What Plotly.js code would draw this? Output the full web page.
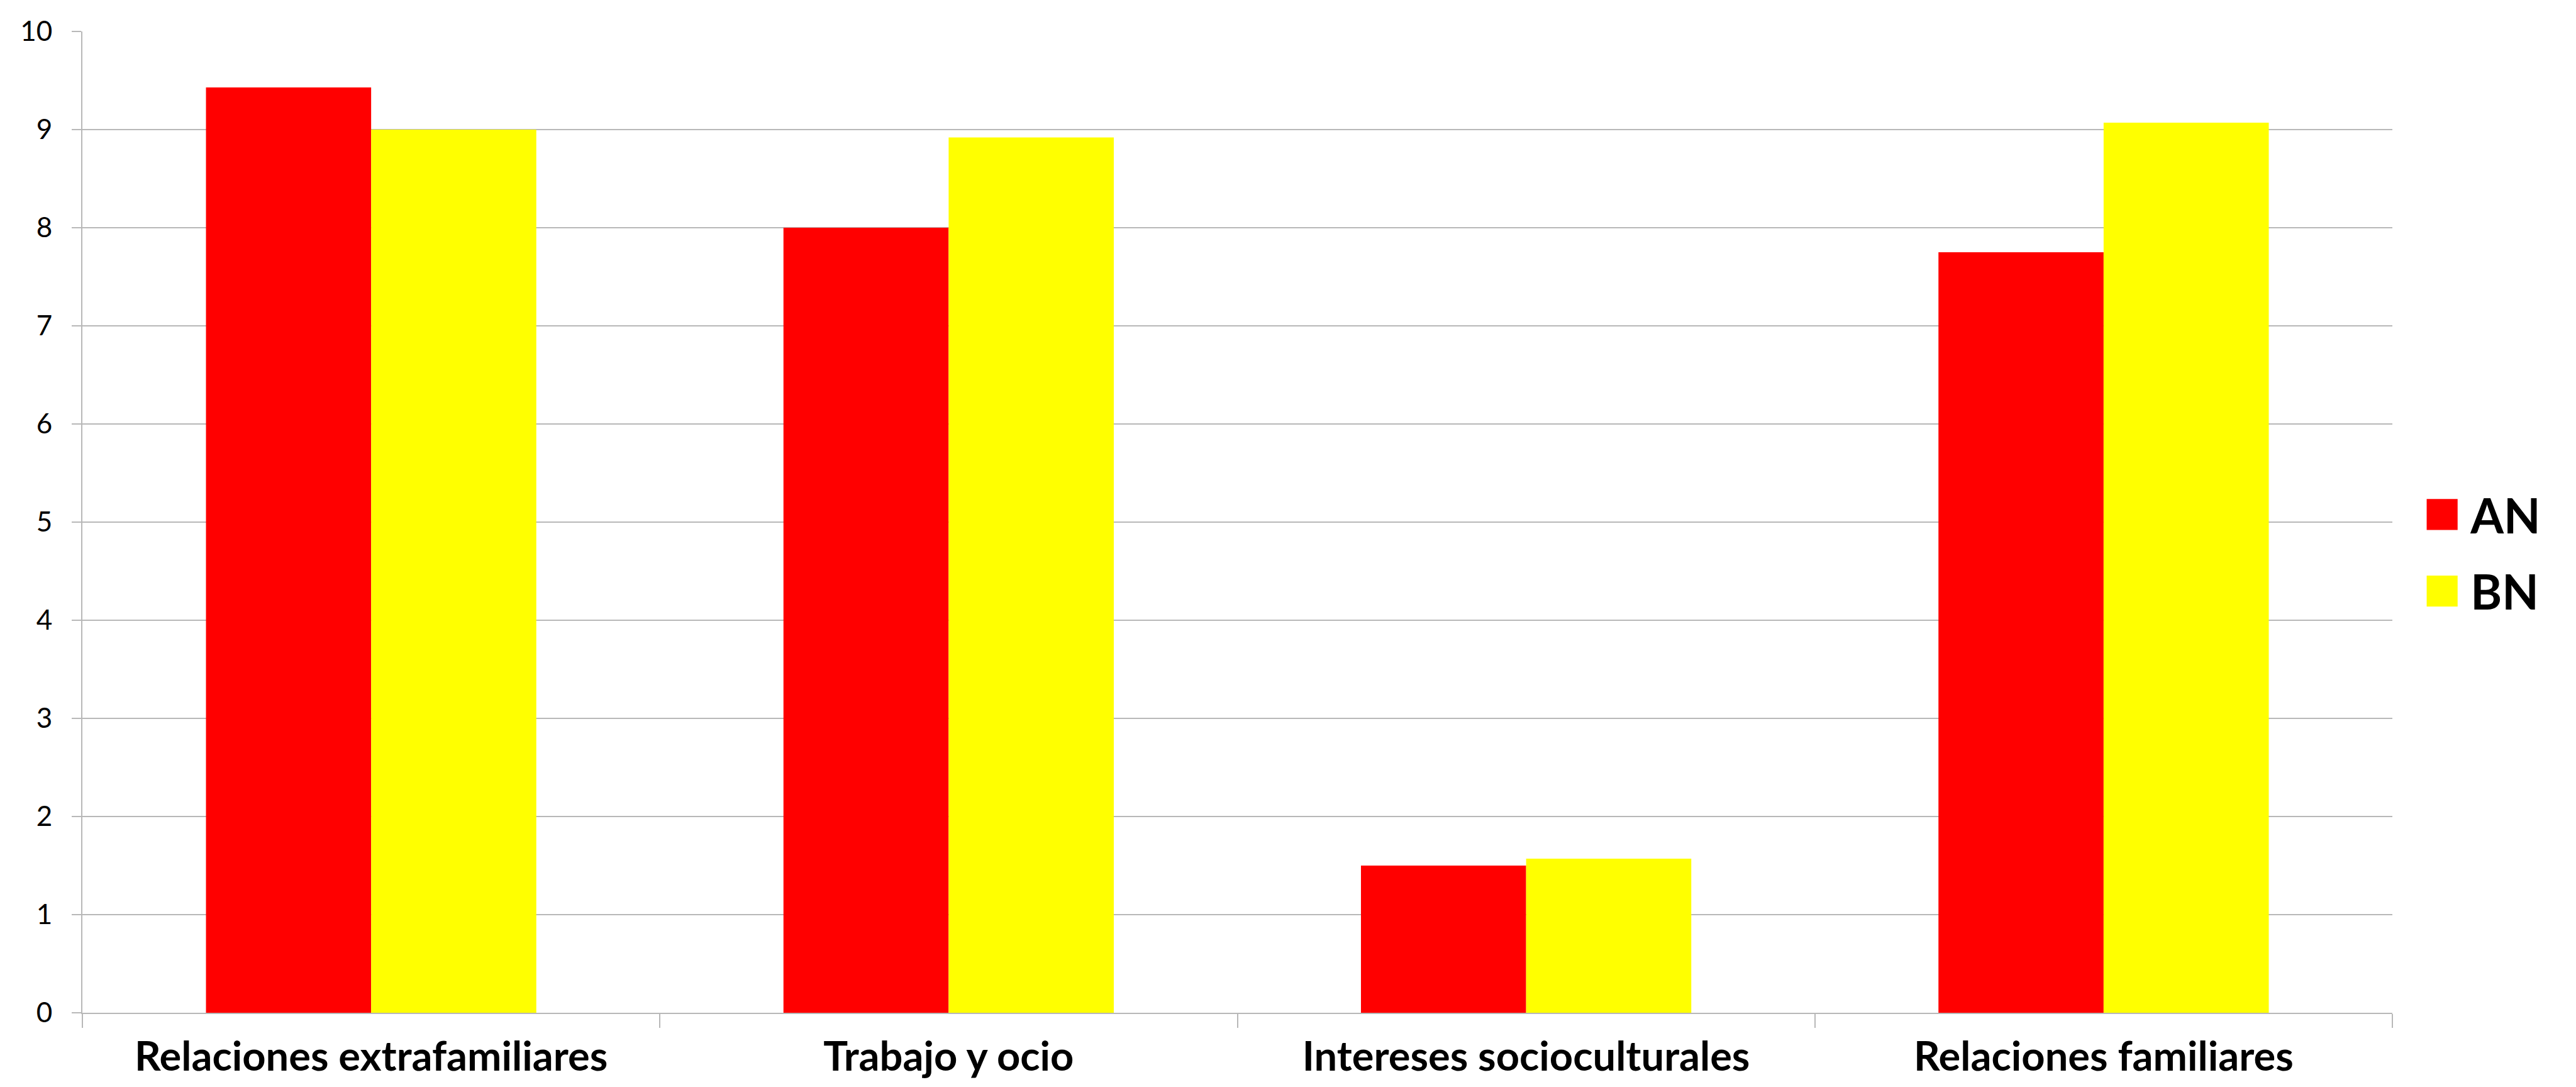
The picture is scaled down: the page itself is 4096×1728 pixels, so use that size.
<!DOCTYPE html>
<html>
<head>
<meta charset="utf-8">
<script src="https://cdn.plot.ly/plotly-3.0.1.min.js"></script>
<style>
  html, body { margin: 0; padding: 0; background: #ffffff; }
  #chart { width: 4096px; height: 1728px; }
</style>
</head>
<body>
<div id="chart"></div>
<script>
const categories = ["Relaciones extrafamiliares", "Trabajo y ocio", "Intereses socioculturales", "Relaciones familiares"];
const seriesNames = ["AN", "BN"];
const valuesAN = [9.43, 8.0, 1.5, 7.75];
const valuesBN = [9.0, 8.92, 1.57, 9.07];
const yTicks = [0, 1, 2, 3, 4, 5, 6, 7, 8, 9, 10];

const FONT = "Lato, 'Open Sans', sans-serif";

const traces = [
  { type: "bar", name: seriesNames[0], legendgroup: "g1", x: categories, y: valuesAN,
    marker: { color: "#FF0000", line: { width: 0 } } },
  { type: "bar", name: seriesNames[1], legendgroup: "g2", x: categories, y: valuesBN,
    marker: { color: "#FFFF00", line: { width: 0 } } }
];

const layout = {
  width: 4096, height: 1728,
  paper_bgcolor: "#ffffff", plot_bgcolor: "#ffffff",
  margin: { l: 131, r: 292, t: 50, b: 118, pad: 0 },
  barmode: "group", bargap: 0.428, bargroupgap: 0,
  font: { family: FONT, color: "#000000" },
  showlegend: true,
  legend: {
    x: 1.0093, xanchor: "left", y: 0.4686, yanchor: "middle",
    font: { family: FONT, size: 76, color: "#000000", weight: "bold" },
    itemwidth: 80, traceorder: "grouped", tracegroupgap: 20, bgcolor: "rgba(0,0,0,0)"
  },
  xaxis: {
    type: "category",
    tickson: "boundaries",
    ticks: "outside", ticklen: 22, tickwidth: 2, tickcolor: "#B8B8B8",
    showline: true, linecolor: "#B8B8B8", linewidth: 2,
    showgrid: false, zeroline: false,
    tickfont: { family: FONT, size: 65, color: "#000000", weight: "bold" },
    ticklabelstandoff: 12
  },
  yaxis: {
    range: [0, 10], tickvals: yTicks, ticktext: yTicks.map(String),
    ticks: "outside", ticklen: 15, tickwidth: 2, tickcolor: "#B8B8B8",
    showline: true, linecolor: "#B8B8B8", linewidth: 2,
    showgrid: true, gridcolor: "#B8B8B8", gridwidth: 2,
    zeroline: false,
    tickfont: { family: FONT, size: 44, color: "#000000" },
    ticklabelstandoff: 22
  }
};

Plotly.newPlot("chart", traces, layout, { displayModeBar: false, staticPlot: true }).then(function () {
  document.querySelectorAll(".legend .legendpoints path").forEach(function (p) {
    const t = p.getAttribute("transform") || "";
    p.setAttribute("transform", t + " scale(4.1)");
  });
});
</script>
</body>
</html>
